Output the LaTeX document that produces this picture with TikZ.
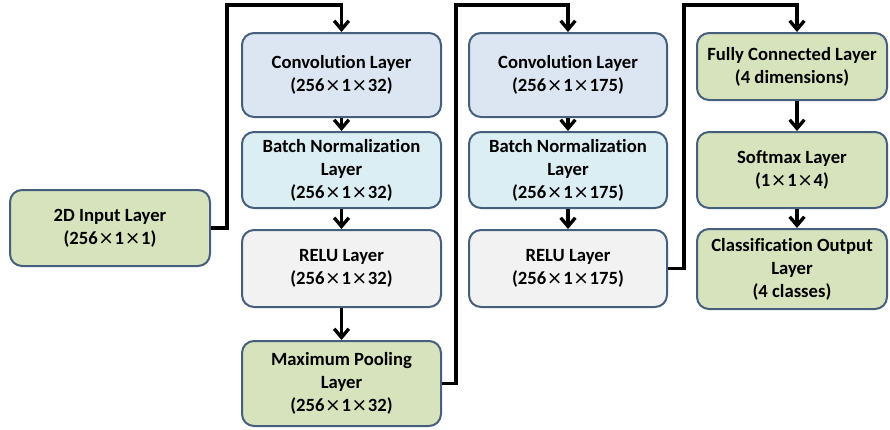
\documentclass[tikz,border=0pt]{standalone}
\usepackage{fontspec}
\setmainfont{Carlito}[Ligatures=NoCommon]
\newfontfamily\symf{DejaVu Sans}
\newcommand{\tms}{\hspace{0.5pt}{\symf\mdseries×}\hspace{0.5pt}}
\usetikzlibrary{arrows.meta}
\definecolor{gfill}{RGB}{215,227,188}
\definecolor{cfill}{RGB}{220,230,242}
\definecolor{bfill}{RGB}{219,238,244}
\definecolor{rfill}{RGB}{242,242,242}
\definecolor{bord}{RGB}{70,95,125}
\tikzset{
  lay/.style={draw=bord, line width=1.5pt, rounded corners=9pt, align=center,
    font=\bfseries\fontsize{14}{17.25}\selectfont, inner sep=0pt},
  conn/.style={line width=2.5pt, -{Straight Barb[length=6.5pt,width=11pt,line width=2.5pt]}},
}
\begin{document}
\begin{tikzpicture}[x=0.75pt,y=-0.75pt]
\useasboundingbox (0,0) rectangle (890,429);
% input
\node[lay, fill=gfill, minimum width=150pt, minimum height=57pt] (in) at (110,228) {2D Input Layer\\(256\tms1\tms1)};
% column 1
\node[lay, fill=cfill, minimum width=149.25pt, minimum height=63pt] (c1) at (341.5,75) {Convolution Layer\\(256\tms1\tms32)};
\node[lay, fill=bfill, minimum width=149.25pt, minimum height=57pt] (b1) at (341.5,170) {Batch Normalization\\Layer\\(256\tms1\tms32)};
\node[lay, fill=rfill, minimum width=149.25pt, minimum height=57.75pt] (r1) at (341.5,268.5) {RELU Layer\\(256\tms1\tms32)};
\node[lay, fill=gfill, minimum width=149.25pt, minimum height=63.75pt] (m1) at (341.5,383.5) {Maximum Pooling\\Layer\\(256\tms1\tms32)};
% column 2
\node[lay, fill=cfill, minimum width=148.5pt, minimum height=63pt] (c2) at (568,75) {Convolution Layer\\(256\tms1\tms175)};
\node[lay, fill=bfill, minimum width=148.5pt, minimum height=57pt] (b2) at (568,170) {Batch Normalization\\Layer\\(256\tms1\tms175)};
\node[lay, fill=rfill, minimum width=148.5pt, minimum height=57.75pt] (r2) at (568,268.5) {RELU Layer\\(256\tms1\tms175)};
% column 3
\node[lay, fill=gfill, minimum width=142.5pt, minimum height=50.25pt] (f3) at (792,66.5) {Fully Connected Layer\\(4 dimensions)};
\node[lay, fill=gfill, minimum width=142.5pt, minimum height=57pt] (s3) at (792,170) {Softmax Layer\\(1\tms1\tms4)};
\node[lay, fill=gfill, minimum width=142.5pt, minimum height=60pt] (o3) at (792,269) {Classification Output\\Layer\\(4 classes)};
% connectors
\coordinate (t1) at (341.5,5);
\coordinate (t2) at (568,5);
\coordinate (t3) at (797,5);
\draw[conn] (in.east) -- ++(16,0) |- (t1) -- (c1.north);
\draw[conn] (c1) -- (b1);
\draw[conn] (b1) -- (r1);
\draw[conn] (r1) -- (m1);
\draw[conn] (m1.east) -- ++(14,0) |- (t2) -- (c2.north);
\draw[conn] (c2) -- (b2);
\draw[conn] (b2) -- (r2);
\draw[conn] (r2.east) -- ++(16,0) |- (t3) -- (t3 |- f3.north);
\draw[conn] (f3.south -| t3) -- (t3 |- s3.north);
\draw[conn] (s3.south -| t3) -- (t3 |- o3.north);
\end{tikzpicture}
\end{document}
